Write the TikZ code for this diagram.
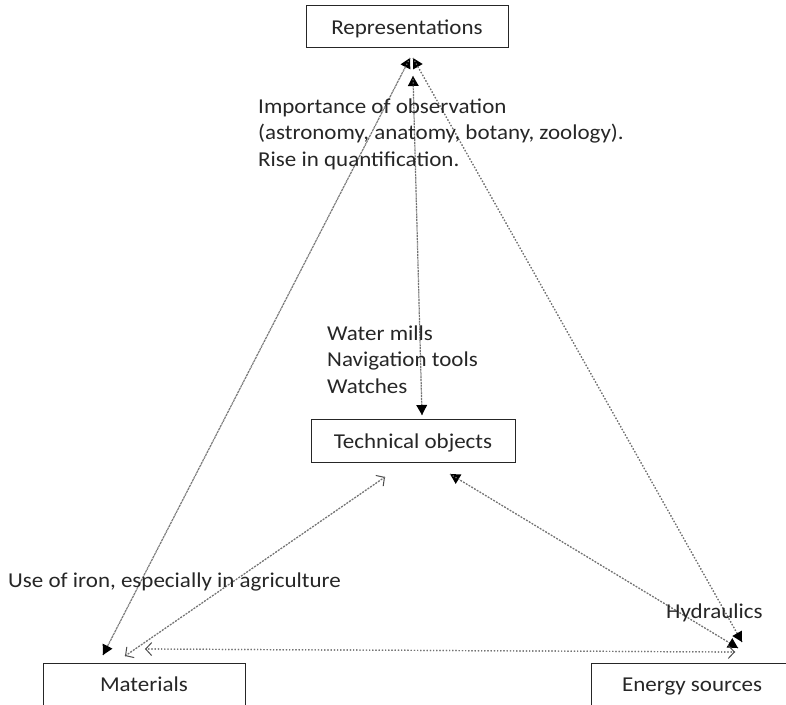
\documentclass[tikz,border=0pt]{standalone}
\usepackage{fontspec}
\setmainfont{Carlito}
\usetikzlibrary{arrows.meta}
% text is set slightly condensed vertically
\newcommand\squash[1]{\scalebox{1}[0.92]{#1}}
\newcommand\textlines[1]{\squash{\begin{tabular}[t]{@{}l@{}}#1\end{tabular}}}
\begin{document}
\begin{tikzpicture}[x=1pt,y=-1pt,
  box/.style={draw=black!85,line width=1pt,minimum width=202pt,minimum height=42pt,
    inner sep=0pt,text height=15pt,text depth=0pt,
    font=\fontsize{23}{29}\selectfont,text=black!85},
  lbl/.style={anchor=base west,inner sep=0pt,
    font=\fontsize{23}{29.3}\selectfont,text=black!85},
  link/.style={draw=black!55,line width=1.2pt,dotted},
  solidtip/.style={-{Triangle[length=10pt,width=11pt,color=black,line width=0pt]}},
  opentip/.style={-{Straight Barb[length=6pt,width=13pt,line width=1pt,color=black!70]}}]
\useasboundingbox (0,0) rectangle (786,704);
% boxes
\node[box] (rep) at (407,26.5) {\squash{Representations}};
\node[box,minimum width=204pt,minimum height=43pt] (tech) at (413,440.5) {\squash{Technical objects}};
\node[box] (mat) at (144,684) {\squash{Materials}};
\node[box] (energy) at (692,684) {\squash{Energy sources}};
% connector ends
\coordinate (repL) at (410,58);
\coordinate (repR) at (413,58);
\coordinate (repM) at (413,76);
\coordinate (techT) at (422,415);
\coordinate (techL) at (385,477);
\coordinate (techR) at (450,474);
\coordinate (matR) at (103,655);
\coordinate (matT) at (125,656);
\coordinate (matE) at (145,649);
\coordinate (enR) at (742,642);
\coordinate (enT) at (738,648);
\coordinate (enM) at (735,652);
% connectors
\draw[link,solidtip] (matR) -- (repL);
\draw[link,solidtip] (repL) -- (matR);
\draw[link,solidtip] (enR) -- (repR);
\draw[link,solidtip] (repR) -- (enR);
\draw[link,solidtip] (techT) -- (repM);
\draw[link,solidtip] (repM) -- (techT);
\draw[link,opentip] (matT) -- (techL);
\draw[link,opentip] (techL) -- (matT);
\draw[link,solidtip] (enT) -- (techR);
\draw[link,solidtip] (techR) -- (enT);
\draw[link,opentip] (enM) -- (matE);
\draw[link,opentip] (matE) -- (enM);
% labels
\node[lbl] (obs) at (258,113) {\textlines{Importance of observation\\(astronomy, anatomy, botany, zoology).\\Rise in quantification.}};
\node[lbl] (tools) at (327,340) {\textlines{Water mills\\Navigation tools\\Watches}};
\node[lbl] (iron) at (8,587) {\squash{Use of iron, especially in agriculture}};
\node[lbl] (hyd) at (666,618) {\squash{Hydraulics}};
\end{tikzpicture}
\end{document}
